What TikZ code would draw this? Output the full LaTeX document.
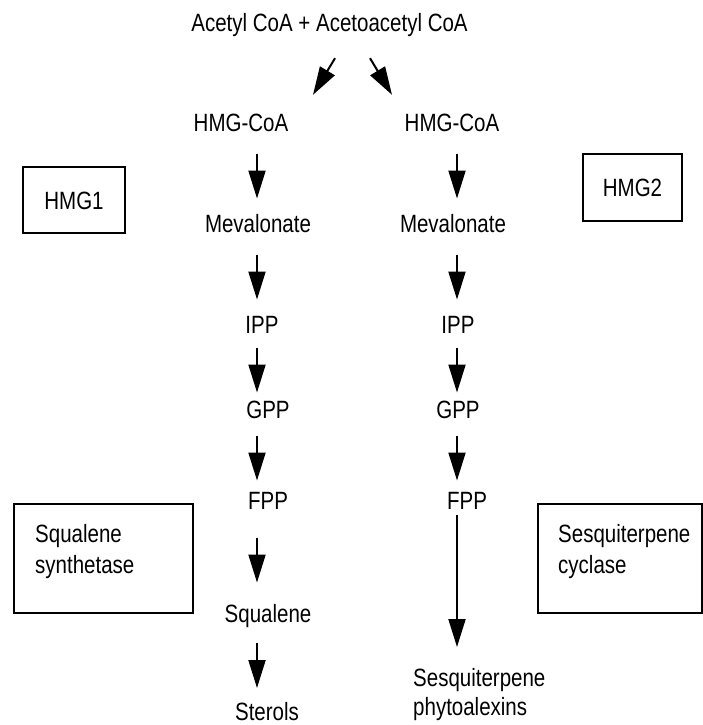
\documentclass[tikz,border=0pt]{standalone}
\usepackage{fontspec}
\setmainfont[FakeStretch=0.82]{Liberation Sans}
\usetikzlibrary{arrows.meta,calc}

\begin{document}
\begin{tikzpicture}[x=1pt,y=-1pt,
    font=\fontsize{25}{31}\selectfont,
    met/.style={inner sep=0pt,anchor=base,text height=18pt,text depth=0pt},
    lab/.style={inner sep=0pt,align=left,anchor=north west},
    enz/.style={draw,line width=2pt,inner sep=0pt,text height=18pt,text depth=0pt},
    flow/.style={line width=2pt,-{Triangle[length=28pt,width=17pt]}}]
    \useasboundingbox (0,0) rectangle (703,725);
    \coordinate (colL) at (257,0);
    \coordinate (colR) at (457,0);

    \node[met] (acetyl) at (329.5,32) {Acetyl CoA + Acetoacetyl CoA};

    \node[met] (hmgL) at (241,131) {HMG-CoA};
    \node[met] (mevL) at (258,232) {Mevalonate};
    \node[met] (ippL) at (262,333) {IPP};
    \node[met] (gppL) at (268,418) {GPP};
    \node[met] (fppL) at (268,509) {FPP};
    \node[met] (sqlL) at (268,622) {Squalene};
    \node[met] (strL) at (267,720) {Sterols};

    \node[met] (hmgR) at (452,131) {HMG-CoA};
    \node[met] (mevR) at (453,232) {Mevalonate};
    \node[met] (ippR) at (458,333) {IPP};
    \node[met] (gppR) at (458,418) {GPP};
    \node[met] (fppR) at (467,509) {FPP};
    \node[lab] (sesq) at (413,668) {Sesquiterpene\\[-2pt]phytoalexins};

    \node[enz,minimum width=102,minimum height=66] (hmg1) at (74,200) {HMG1};
    \node[enz,minimum width=99,minimum height=67] (hmg2) at (632.5,187.5) {HMG2};
    \node[enz,minimum width=179,minimum height=109,anchor=north west] (sqsBox) at (13,503) {};
    \node[lab] (sqsTxt) at ($(sqsBox.north west)+(22,21)$) {Squalene\\synthetase};
    \node[enz,minimum width=164,minimum height=109,anchor=north west] (scyBox) at (537,503) {};
    \node[lab] (scyTxt) at ($(scyBox.north west)+(21,21)$) {Sesquiterpene\\cyclase};

    \draw[flow] ($(acetyl.south)+(5.5,26)$) -- ($(hmgL.north)+(72,-18)$);
    \draw[flow] ($(acetyl.south)+(40.5,26)$) -- ($(hmgR.north)+(-60,-18)$);

    \foreach \a/\b in {hmgL/mevL,mevL/ippL,ippL/gppL,gppL/fppL,fppL/sqlL,sqlL/strL}
{
    \draw[flow] ($(\a.south -| colL)!0.5!(\b.north -| colL)$) ++(0,-19) -- ++(0,45);
}
    \foreach \a/\b in {hmgR/mevR,mevR/ippR,ippR/gppR,gppR/fppR}
{
    \draw[flow] ($(\a.south -| colR)!0.5!(\b.north -| colR)$) ++(0,-19) -- ++(0,45);
}
    \draw[flow,shorten <=6pt,shorten >=21pt] (fppR.south -| colR) -- (sesq.north -| colR);
\end{tikzpicture}
\end{document}
